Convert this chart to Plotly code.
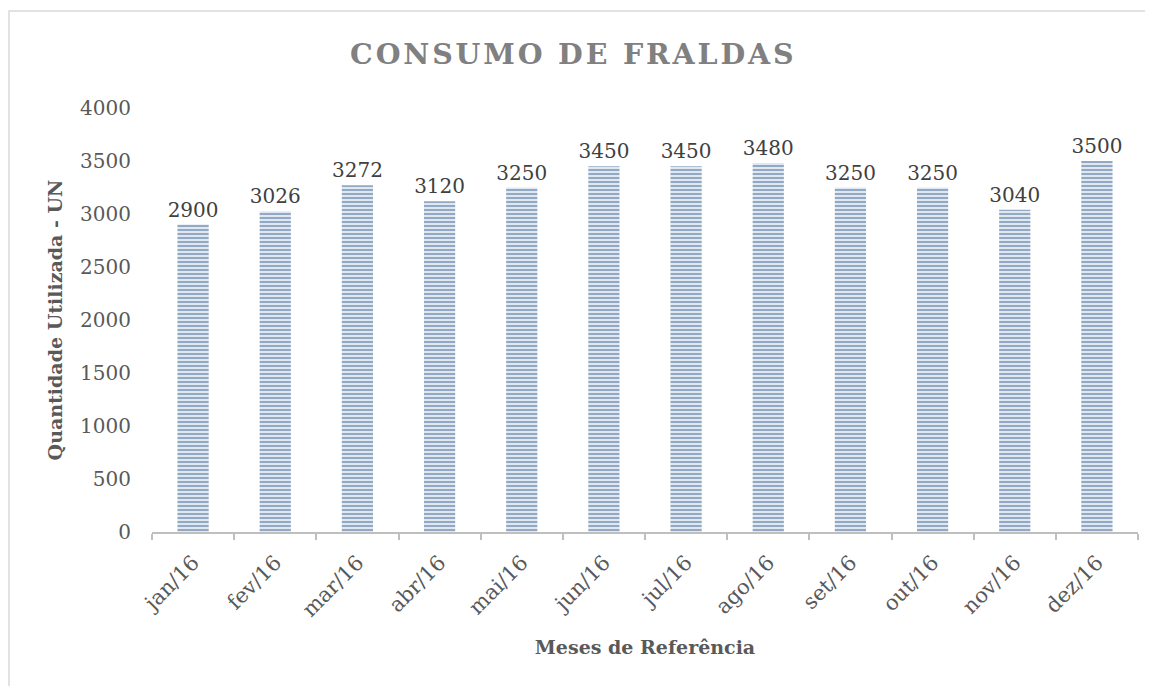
import plotly.graph_objects as go

meses = ["jan/16", "fev/16", "mar/16", "abr/16", "mai/16", "jun/16",
         "jul/16", "ago/16", "set/16", "out/16", "nov/16", "dez/16"]
consumo = [2900, 3026, 3272, 3120, 3250, 3450, 3450, 3480, 3250, 3250, 3040, 3500]

FONT = "DejaVu Serif"

# titulo com espaçamento entre letras
titulo = "\u200a".join("CONSUMO DE FRALDAS")

fig = go.Figure(go.Bar(
    x=meses, y=consumo,
    text=[str(v) for v in consumo],
    textposition="outside",
    constraintext="none",
    textfont=dict(family=FONT, size=20, color="#404040"),
    cliponaxis=False,
    marker=dict(
        color="#dfe7f0",
        line=dict(width=0),
        pattern=dict(shape="-", bgcolor="#dfe7f0", fgcolor="#8aa1be",
                     size=4, solidity=0.45, fillmode="replace"),
    ),
))

# a página tem 8px de margem no body: compensado nas margens
fig.update_layout(
    width=1153, height=686,
    margin=dict(l=144, r=23, t=100, b=162, autoexpand=False),
    paper_bgcolor="white", plot_bgcolor="white",
    bargap=0.62,
    showlegend=False,
    title=dict(text="<b>" + titulo + "</b>", x=0.489, xanchor="center",
               y=0.933, yanchor="middle",
               font=dict(family=FONT, size=28.5, color="#808080")),
    font=dict(family=FONT, color="#595959"),
    xaxis=dict(
        showline=True, linecolor="#bfbfbf", linewidth=2,
        ticks="outside", tickson="boundaries", ticklen=6, tickwidth=2,
        tickcolor="#bfbfbf", tickangle=-45, automargin=False,
        ticklabelstandoff=8,
        tickfont=dict(family=FONT, size=21, color="#595959"),
        title=dict(text="<b>Meses de Referência</b>", standoff=20,
                   font=dict(family=FONT, size=19, color="#595959")),
        showgrid=False,
    ),
    yaxis=dict(
        range=[0, 4000], dtick=500, showgrid=False, zeroline=False,
        showline=False, ticks="", ticklabelstandoff=20, automargin=False,
        tickfont=dict(family=FONT, size=20, color="#595959"),
        title=dict(text="<b>Quantidade Utilizada - UN</b>", standoff=12,
                   font=dict(family=FONT, size=19, color="#595959")),
    ),
    shapes=[dict(type="rect", xref="paper", yref="paper",
                 x0=-0.145, x1=1.2, y0=-0.6, y1=1.229,
                 line=dict(color="#d9d9d9", width=1.5))],
)

fig.write_html("out.html")
